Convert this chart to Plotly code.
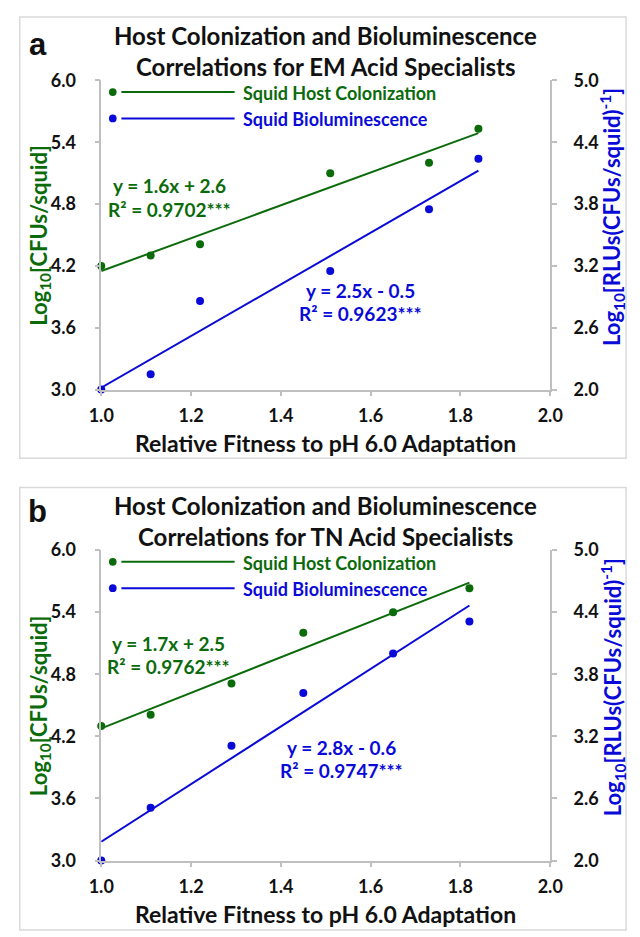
import numpy as np
import plotly.graph_objects as go

W, H = 640, 937

# ---------------- data ----------------
# Panel a: EM acid specialists
a_fit = [1.0, 1.11, 1.22, 1.51, 1.73, 1.84]
a_cfu = [4.20, 4.30, 4.41, 5.10, 5.20, 5.53]
a_rlu = [2.00, 2.15, 2.86, 3.15, 3.75, 4.24]
a_eq_cfu = ["y = 1.6x + 2.6", "R² = 0.9702***"]
a_eq_rlu = ["y = 2.5x - 0.5", "R² = 0.9623***"]
a_title = ["Host Colonization and Bioluminescence", "Correlations for EM Acid Specialists"]

# Panel b: TN acid specialists
b_fit = [1.0, 1.11, 1.29, 1.45, 1.65, 1.82]
b_cfu = [4.30, 4.41, 4.71, 5.20, 5.40, 5.63]
b_rlu = [2.00, 2.51, 3.11, 3.62, 4.00, 4.31]
b_eq_cfu = ["y = 1.7x + 2.5", "R² = 0.9762***"]
b_eq_rlu = ["y = 2.8x - 0.6", "R² = 0.9747***"]
b_title = ["Host Colonization and Bioluminescence", "Correlations for TN Acid Specialists"]

series_names = ["Squid Host Colonization", "Squid Bioluminescence"]
x_title = "Relative Fitness to pH 6.0 Adaptation"
y1_title = "Log<sub>10</sub>[CFUs/squid]"
y2_title = "Log<sub>10</sub>[RLUs(CFUs/squid)<sup>-1</sup>]"

GREEN = "#0B6B0B"
BLUE = "#0A0AD8"
AXC = "#BFBFBF"
FONT = "Lato"


def px(x):
    return x / W


def py(y):
    return 1 - y / H


fig = go.Figure()

panels = [
    dict(fit=a_fit, cfu=a_cfu, rlu=a_rlu, eqc=a_eq_cfu, eqr=a_eq_rlu, title=a_title,
         top=70, bot=386.7, label="a", lab_y=33, xs="x", ys="y", ys2="y2",
         eqc_pos=(163, 178, 202), eqr_pos=(362, 285, 309), box=(5, 457)),
    dict(fit=b_fit, cfu=b_cfu, rlu=b_rlu, eqc=b_eq_cfu, eqr=b_eq_rlu, title=b_title,
         top=551, bot=869, label="b", lab_y=512, xs="x2", ys="y3", ys2="y4",
         eqc_pos=(162, 647, 670), eqr_pos=(342, 753, 777), box=(487, 940)),
]

LEFT, RIGHT = 92, 560
shapes = []
annotations = []

axis_common = dict(showline=True, linecolor=AXC, linewidth=1.5, ticks="outside",
                   ticklen=5, tickcolor=AXC, tickwidth=1.5, showgrid=False, zeroline=False,
                   tickfont=dict(family=FONT, size=18, color="#111111", weight="bold"),
                   tickformat=".1f")

for i, p in enumerate(panels):
    xs, ys, ys2 = p["xs"], p["ys"], p["ys2"]
    # points
    fig.add_trace(go.Scatter(x=p["fit"], y=p["cfu"], mode="markers", xaxis=xs, yaxis=ys,
                             marker=dict(color=GREEN, size=8), cliponaxis=False, showlegend=False))
    fig.add_trace(go.Scatter(x=p["fit"], y=p["rlu"], mode="markers", xaxis=xs, yaxis=ys2,
                             marker=dict(color=BLUE, size=8), cliponaxis=False, showlegend=False))
    # linear trend lines fitted to the data
    xf = np.array([min(p["fit"]), max(p["fit"])])
    kc = np.polyfit(p["fit"], p["cfu"], 1)
    kr = np.polyfit(p["fit"], p["rlu"], 1)
    fig.add_trace(go.Scatter(x=xf, y=np.polyval(kc, xf), mode="lines", xaxis=xs, yaxis=ys,
                             line=dict(color=GREEN, width=2), cliponaxis=False, showlegend=False))
    fig.add_trace(go.Scatter(x=xf, y=np.polyval(kr, xf), mode="lines", xaxis=xs, yaxis=ys2,
                             line=dict(color=BLUE, width=2), cliponaxis=False, showlegend=False))

    ydom = [py(p["bot"]), py(p["top"])]
    xkey = "xaxis" if xs == "x" else "xaxis" + xs[1:]
    ykey = "yaxis" if ys == "y" else "yaxis" + ys[1:]
    y2key = "yaxis" + ys2[1:]
    fig.layout[xkey] = dict(domain=[px(LEFT), px(RIGHT)], anchor=ys, range=[1, 2], dtick=0.2,
                            tick0=1, ticklabelstandoff=4, **axis_common)
    fig.layout[ykey] = dict(domain=ydom, anchor=xs, range=[3, 6], dtick=0.6, tick0=3,
                            ticklabelstandoff=15, **axis_common)
    fig.layout[y2key] = dict(overlaying=ys, side="right", anchor=xs, range=[2, 5], dtick=0.6,
                             tick0=2, ticklabelstandoff=13, **axis_common)

    # border
    shapes.append(dict(type="rect", xref="paper", yref="paper", x0=px(7), x1=px(639),
                       y0=py(p["box"][1]), y1=py(p["box"][0]),
                       line=dict(color="#D9D9D9", width=1.5), fillcolor="rgba(0,0,0,0)"))

    # titles
    for k, (txt, yy) in enumerate(zip(p["title"], [p["top"] - 46, p["top"] - 14])):
        annotations.append(dict(text=txt, x=px(326), y=py(yy), xref="paper", yref="paper",
                                xanchor="center", yanchor="middle", showarrow=False,
                                font=dict(family=FONT, size=24, color="#111111", weight="bold")))
    annotations.append(dict(text=p["label"], x=px(26), y=py(p["lab_y"]), xref="paper", yref="paper",
                            xanchor="center", yanchor="middle", showarrow=False,
                            font=dict(family="Liberation Sans", size=31, color="#111111", weight="bold")))

    # axis titles
    annotations.append(dict(text=x_title, x=px(326), y=py(p["bot"] + 55), xref="paper", yref="paper",
                            xanchor="center", yanchor="middle", showarrow=False,
                            font=dict(family=FONT, size=23, color="#111111", weight="bold")))
    annotations.append(dict(text=y1_title, x=px(28), y=py((p["top"] + p["bot"]) / 2), xref="paper",
                            yref="paper", xanchor="center", yanchor="middle", showarrow=False,
                            textangle=-90, font=dict(family=FONT, size=22, color=GREEN, weight="bold")))
    annotations.append(dict(text=y2_title, x=px(625), y=py((p["top"] + p["bot"]) / 2 - 18), xref="paper",
                            yref="paper", xanchor="center", yanchor="middle", showarrow=False,
                            textangle=-90, font=dict(family=FONT, size=22, color=BLUE, weight="bold")))

    # equations
    for (cx, y1, y2), lines, col in [(p["eqc_pos"], p["eqc"], GREEN), (p["eqr_pos"], p["eqr"], BLUE)]:
        for txt, yy in zip(lines, [y1, y2]):
            annotations.append(dict(text=txt, x=px(cx), y=py(yy), xref="paper", yref="paper",
                                    xanchor="center", yanchor="middle", showarrow=False,
                                    font=dict(family=FONT, size=19, color=col, weight="bold")))

    # custom legend (dot, line, label)
    for name, col, dy in [(series_names[0], GREEN, 12), (series_names[1], BLUE, 39)]:
        yy = p["top"] + dy
        r = 4
        shapes.append(dict(type="circle", xref="paper", yref="paper", x0=px(104 - r), x1=px(104 + r),
                           y0=py(yy + r), y1=py(yy - r), fillcolor=col, line=dict(color=col, width=0)))
        shapes.append(dict(type="line", xref="paper", yref="paper", x0=px(113), x1=px(231),
                           y0=py(yy), y1=py(yy), line=dict(color=col, width=2)))
        annotations.append(dict(text=name, x=px(238), y=py(yy + 1), xref="paper", yref="paper",
                                xanchor="left", yanchor="middle", showarrow=False,
                                font=dict(family=FONT, size=18, color=col, weight="bold")))

fig.update_layout(width=W, height=H, margin=dict(l=0, r=0, t=0, b=0),
                  paper_bgcolor="white", plot_bgcolor="white",
                  shapes=shapes, annotations=annotations, showlegend=False)

fig.write_html("out.html")
